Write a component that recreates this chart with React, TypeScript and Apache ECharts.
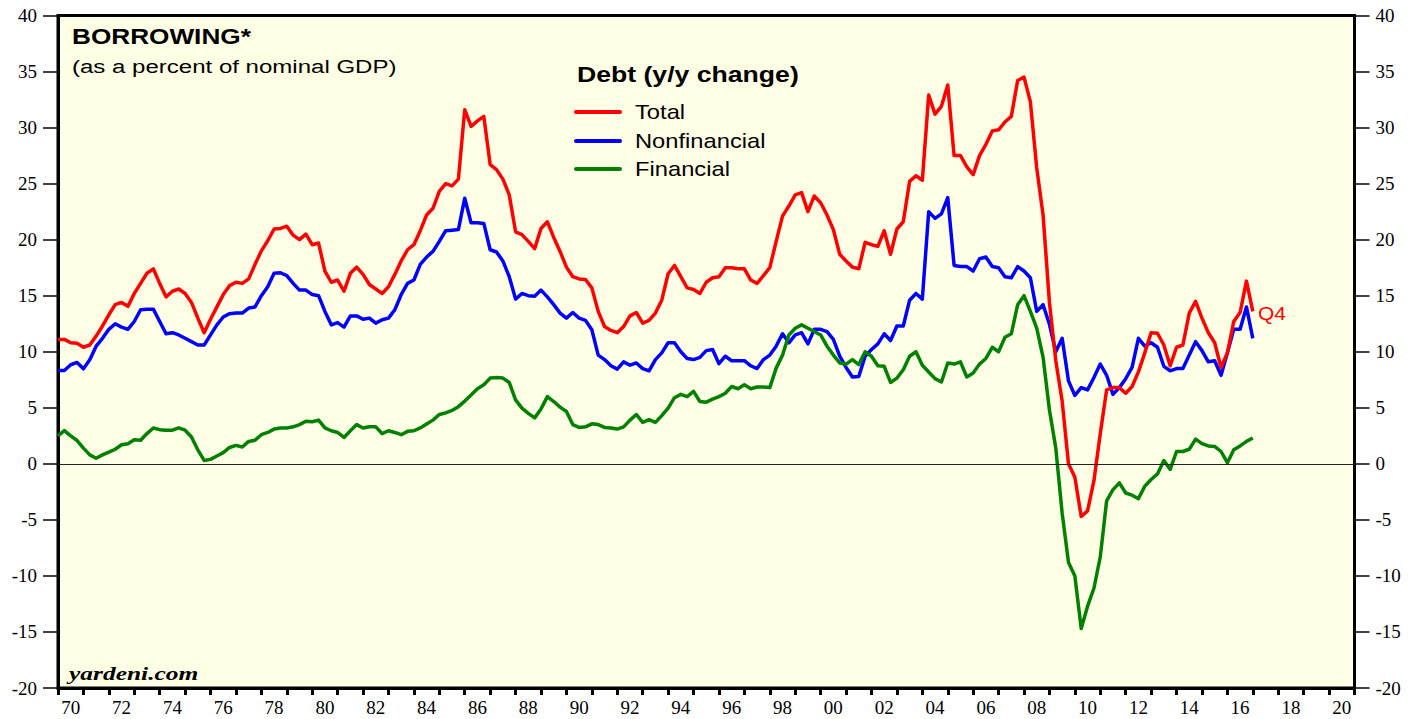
import React, { useEffect, useRef } from "react";
import * as echarts from "echarts";

// Quarterly observations, first point = 1969 Q4 (plotted at 1970.0), last = 2016 Q4
const START_YEAR = 1970;
const STEP = 0.25;

const total = [
  11.1, 11.1, 10.8, 10.75, 10.4, 10.6, 11.4, 12.3, 13.3, 14.2, 14.4, 14.05, 15.2, 16.1, 17.0, 17.4, 16.1, 14.9, 15.4, 15.6,
  15.2, 14.4, 13.0, 11.7, 12.9, 14.0, 15.1, 15.9, 16.2, 16.1, 16.5, 17.8, 19.0, 19.9, 20.95,
  21.0, 21.2, 20.4, 20.0, 20.5, 19.55, 19.7, 17.2, 16.2, 16.4, 15.4, 17.0, 17.55, 16.9, 16.0, 15.6, 15.2, 15.8, 16.9, 18.1,
  19.1, 19.55, 20.8, 22.2, 22.8, 24.3, 25.0, 24.8, 25.4, 31.6, 30.1, 30.6, 31.0, 26.7,
  26.25, 25.4, 24.0, 20.7, 20.45, 19.85, 19.2, 21.0, 21.6, 20.2, 18.95, 17.55, 16.7, 16.5, 16.45, 15.7, 13.6, 12.25, 11.9,
  11.7, 12.25, 13.2, 13.5, 12.55, 12.8, 13.45, 14.6, 16.96, 17.7, 16.7, 15.7, 15.55, 15.2, 16.2,
  16.6, 16.7, 17.5, 17.5, 17.4, 17.4, 16.4, 16.1, 16.8, 17.5, 19.85, 22.1, 23.0, 24.0, 24.2, 22.5, 23.9, 23.3, 22.2, 20.9,
  18.7, 18.1, 17.55, 17.4, 19.76, 19.55, 19.4, 20.8, 18.7, 20.95, 21.6, 25.2, 25.7, 25.3,
  32.9, 31.2, 31.9, 33.8, 27.5, 27.5, 26.5, 25.8, 27.5, 28.5, 29.7, 29.8, 30.5, 31.0, 34.2, 34.5, 32.3, 26.4, 22.2, 14.4,
  9.2, 5.6, 0.0, -1.2, -4.7, -4.2, -1.5, 2.7, 6.6, 6.8, 6.8, 6.3,
  6.9, 8.2, 9.9, 11.7, 11.65, 10.6, 8.75, 10.4, 10.6, 13.45, 14.5, 13.0, 11.7, 10.8, 8.6, 9.9, 12.7, 13.5, 16.3, 13.6,
];

const nonfinancial = [
  8.33, 8.33, 8.84, 9.05, 8.48, 9.29, 10.5, 11.2, 12.0, 12.5, 12.2, 12.0, 12.7, 13.75, 13.8, 13.8, 12.7, 11.6, 11.7, 11.5,
  11.2, 10.9, 10.6, 10.6, 11.5, 12.4, 13.1, 13.4, 13.45, 13.45, 13.9, 14.0, 15.0, 15.8, 17.0,
  17.05, 16.8, 16.1, 15.5, 15.5, 15.1, 15.0, 13.6, 12.4, 12.6, 12.2, 13.2, 13.2, 12.9, 13.0, 12.55, 12.85, 13.0, 13.75, 15.1,
  16.1, 16.4, 17.8, 18.45, 18.95, 19.85, 20.8, 20.85, 20.9, 23.7, 21.5, 21.5, 21.45, 19.1,
  18.9, 18.1, 16.7, 14.7, 15.2, 15.0, 14.95, 15.5, 14.9, 14.2, 13.45, 13.0, 13.5, 13.0, 12.8, 11.96, 9.7, 9.3, 8.75,
  8.45, 9.1, 8.8, 9.0, 8.5, 8.3, 9.3, 9.9, 10.8, 10.8, 10.0, 9.4, 9.3, 9.5, 10.1,
  10.2, 8.93, 9.6, 9.2, 9.2, 9.2, 8.75, 8.5, 9.3, 9.7, 10.5, 11.6, 10.8, 11.5, 11.7, 10.7, 12.0, 12.0, 11.8, 11.1,
  9.6, 8.6, 7.74, 7.8, 9.6, 10.2, 10.7, 11.6, 11.0, 12.3, 12.3, 14.6, 15.2, 14.7,
  22.5, 21.9, 22.3, 23.75, 17.7, 17.6, 17.6, 17.2, 18.3, 18.45, 17.6, 17.5, 16.7, 16.6, 17.6, 17.2, 16.6, 13.6, 14.2, 12.45,
  10.0, 11.2, 7.4, 6.1, 6.8, 6.6, 7.7, 8.9, 7.9, 6.2, 6.8, 7.6,
  8.6, 11.2, 10.5, 10.8, 10.4, 8.7, 8.3, 8.5, 8.5, 9.7, 10.9, 10.1, 9.1, 9.2, 7.9, 9.9, 12.0, 12.0, 14.0, 11.2,
];

const financial = [
  2.5, 2.97, 2.5, 2.08, 1.4, 0.8, 0.5, 0.8, 1.04, 1.3, 1.7, 1.8, 2.14, 2.1, 2.7, 3.2, 3.05, 3.0, 3.0, 3.2,
  3.0, 2.4, 1.25, 0.3, 0.4, 0.7, 1.0, 1.46, 1.65, 1.5, 2.0, 2.1, 2.6, 2.8, 3.1,
  3.2, 3.2, 3.3, 3.5, 3.8, 3.75, 3.9, 3.2, 2.95, 2.8, 2.35, 2.95, 3.5, 3.2, 3.3, 3.3, 2.7, 2.95, 2.8, 2.6,
  2.9, 2.95, 3.2, 3.55, 3.9, 4.4, 4.55, 4.76, 5.1, 5.6, 6.15, 6.7, 7.05, 7.65,
  7.7, 7.65, 7.26, 5.7, 4.97, 4.5, 4.1, 4.9, 6.0, 5.56, 5.06, 4.67, 3.5, 3.25, 3.3, 3.57, 3.5, 3.25, 3.2,
  3.1, 3.3, 3.9, 4.4, 3.7, 3.95, 3.7, 4.3, 4.97, 5.9, 6.2, 6.0, 6.46, 5.56, 5.5,
  5.77, 6.0, 6.3, 6.9, 6.7, 7.05, 6.7, 6.85, 6.85, 6.8, 8.54, 9.7, 11.5, 12.1, 12.4, 12.1, 11.8, 11.5, 10.5, 9.7,
  9.0, 8.9, 9.3, 8.85, 10.0, 9.6, 8.75, 8.7, 7.26, 7.65, 8.4, 9.6, 10.0, 8.8,
  8.2, 7.6, 7.3, 9.0, 8.9, 9.1, 7.75, 8.1, 8.9, 9.4, 10.4, 10.0, 11.3, 11.6, 14.2, 15.0, 13.6, 12.1, 9.5, 4.8,
  1.4, -4.4, -8.8, -10.0, -14.7, -12.7, -11.1, -8.3, -3.3, -2.3, -1.7, -2.6,
  -2.8, -3.1, -2.0, -1.4, -0.9, 0.3, -0.5, 1.1, 1.1, 1.3, 2.2, 1.8, 1.6, 1.55, 1.1, 0.1, 1.25, 1.6, 2.0, 2.3,
];

const xCategories = [
  "70", "71", "72", "73", "74", "75", "76", "77", "78", "79",
  "80", "81", "82", "83", "84", "85", "86", "87", "88", "89",
  "90", "91", "92", "93", "94", "95", "96", "97", "98", "99",
  "00", "01", "02", "03", "04", "05", "06", "07", "08", "09",
  "10", "11", "12", "13", "14", "15", "16", "17", "18", "19", "20",
];

const seriesNames = ["Total", "Nonfinancial", "Financial"];
const seriesColors = ["#FF0000", "#0000FF", "#008000"];

const toPoints = (arr: number[]) => arr.map((v, i) => [START_YEAR + i * STEP, v]);

const SERIF = '"Liberation Serif", "Times New Roman", serif';
const SANS = '"Liberation Sans", Arial, Helvetica, sans-serif';

export default function App() {
  const ref = useRef<HTMLDivElement>(null);

  useEffect(() => {
    document.body.style.margin = "0";
    if (!ref.current) return;
    const chart = echarts.init(ref.current, null, { renderer: "svg" });

    const yAxisCommon = {
      type: "value",
      min: -20,
      max: 40,
      interval: 5,
      axisLine: { show: true, onZero: false, lineStyle: { color: "#000", width: 3 } },
      axisTick: { show: true, length: 15, lineStyle: { color: "#000", width: 1.5 } },
      axisLabel: { margin: 21, fontFamily: SERIF, fontSize: 19, color: "#000" },
      splitLine: { show: false },
    };

    const legendY = [112, 141, 169];

    const option: any = {
      animation: false,
      backgroundColor: "#ffffff",
      grid: {
        left: 58,
        top: 15.5,
        right: 66.5,
        bottom: 31,
        show: true,
        backgroundColor: "#FFFFE5",
        borderColor: "#000",
        borderWidth: 3,
      },
      xAxis: [
        { type: "value", min: 1970, max: 2021, show: false },
        {
          type: "category",
          data: xCategories,
          position: "bottom",
          boundaryGap: true,
          axisLine: { show: true, onZero: false, lineStyle: { color: "#000", width: 3 } },
          axisTick: { show: true, interval: 0, length: 7, lineStyle: { color: "#000", width: 3 } },
          axisLabel: { interval: 1, margin: 10, fontFamily: SERIF, fontSize: 19, color: "#000" },
          splitLine: { show: false },
        },
      ],
      yAxis: [
        { ...yAxisCommon, position: "left" },
        { ...yAxisCommon, position: "right" },
      ],
      series: [
        {
          name: seriesNames[1],
          type: "line",
          xAxisIndex: 0,
          yAxisIndex: 0,
          data: toPoints(nonfinancial),
          showSymbol: false,
          z: 2,
          lineStyle: { color: seriesColors[1], width: 3.5, join: "round" },
          markLine: {
            silent: true,
            symbol: ["none", "none"],
            label: { show: false },
            lineStyle: { color: "#222", width: 1, type: "solid" },
            data: [{ yAxis: 0 }],
          },
        },
        {
          name: seriesNames[2],
          type: "line",
          xAxisIndex: 0,
          yAxisIndex: 0,
          data: toPoints(financial),
          showSymbol: false,
          z: 3,
          lineStyle: { color: seriesColors[2], width: 3.5, join: "round" },
        },
        {
          name: seriesNames[0],
          type: "line",
          xAxisIndex: 0,
          yAxisIndex: 0,
          data: toPoints(total),
          showSymbol: false,
          z: 4,
          lineStyle: { color: seriesColors[0], width: 3.5, join: "round" },
        },
      ],
      graphic: [
        {
          type: "text",
          x: 72,
          y: 36,
          scaleX: 1.19,
          z: 20,
          style: { text: "BORROWING*", font: `bold 22px ${SANS}`, fill: "#000", align: "left", verticalAlign: "middle" },
        },
        {
          type: "text",
          x: 72,
          y: 66,
          scaleX: 1.265,
          z: 20,
          style: { text: "(as a percent of nominal GDP)", font: `19px ${SANS}`, fill: "#000", align: "left", verticalAlign: "middle" },
        },
        {
          type: "text",
          x: 577,
          y: 74,
          scaleX: 1.21,
          z: 20,
          style: { text: "Debt (y/y change)", font: `bold 22px ${SANS}`, fill: "#000", align: "left", verticalAlign: "middle" },
        },
        ...seriesNames.flatMap((name, i) => [
          {
            type: "line",
            z: 20,
            shape: { x1: 576, y1: legendY[i], x2: 620, y2: legendY[i] },
            style: { stroke: seriesColors[i], lineWidth: 4, lineCap: "round" },
          },
          {
            type: "text",
            x: 635,
            y: legendY[i],
            scaleX: 1.13,
            z: 20,
            style: { text: name, font: `21px ${SANS}`, fill: "#000", align: "left", verticalAlign: "middle" },
          },
        ]),
        {
          type: "text",
          x: 1258,
          y: 313,
          scaleX: 1.1,
          z: 20,
          style: { text: "Q4", font: `19px ${SANS}`, fill: "#FF0000", align: "left", verticalAlign: "middle" },
        },
        {
          type: "text",
          x: 69,
          y: 674,
          scaleX: 1.34,
          z: 20,
          style: { text: "yardeni.com", font: `italic bold 19px ${SERIF}`, fill: "#000", align: "left", verticalAlign: "middle" },
        },
      ],
    };

    chart.setOption(option);
    return () => chart.dispose();
  }, []);

  return <div ref={ref} style={{ width: 1421, height: 719 }} />;
}
